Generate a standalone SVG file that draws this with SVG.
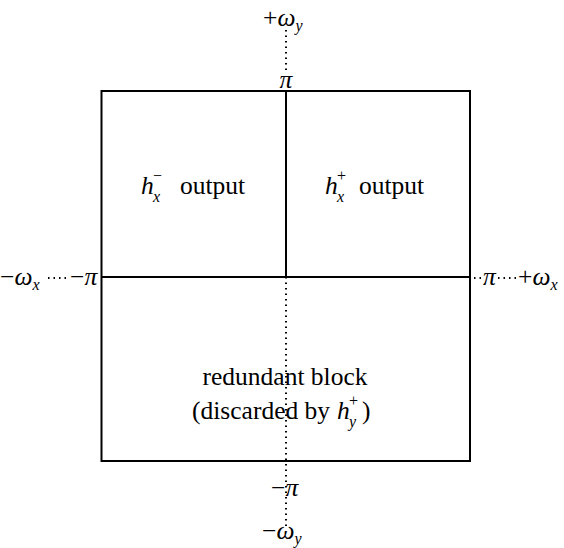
<svg xmlns="http://www.w3.org/2000/svg" width="564" height="548" viewBox="0 0 564 548">
<style>
.t{font-family:"Liberation Serif","DejaVu Serif",serif;font-size:25.5px;fill:#000}
.i{font-style:italic}
.s{font-size:16px}
.solid{stroke:#000;stroke-width:2;fill:none}
.dot{stroke:#000;stroke-width:2;stroke-dasharray:1.5 4;fill:none}
</style>
<rect width="564" height="548" fill="#fff"/>
<g id="connectors">
<line class="dot" x1="286" y1="30" x2="286" y2="72"/>
<line class="dot" x1="286" y1="277" x2="286" y2="526"/>
<line class="dot" x1="48" y1="278" x2="70" y2="278"/>
<line class="dot" x1="474" y1="278" x2="482" y2="278"/>
<line class="dot" x1="498" y1="278" x2="520" y2="278"/>
</g>
<g id="box">
<rect class="solid" x="101.5" y="91" width="368.5" height="370"/>
<line class="solid" x1="286" y1="91" x2="286" y2="277"/>
<line class="solid" x1="101.5" y1="277" x2="470" y2="277"/>
</g>
<g id="q1">
<text class="t i" x="141" y="194">h</text>
<text class="t i s" x="153" y="202">x</text>
<text class="t s" x="153" y="181">−</text>
<text class="t" x="180" y="194">output</text>
</g>
<g id="q2">
<text class="t i" x="325" y="194">h</text>
<text class="t i s" x="337" y="202">x</text>
<text class="t s" x="337" y="181">+</text>
<text class="t" x="359" y="194">output</text>
</g>
<g id="redundant">
<text class="t" x="285" y="385" text-anchor="middle">redundant block</text>
<text class="t" x="192" y="419">(discarded by</text>
<text class="t i" x="337" y="419">h</text>
<text class="t i s" x="349" y="427">y</text>
<text class="t s" x="349" y="406">+</text>
<text class="t" x="362" y="419">)</text>
</g>
<g id="labels">
<text class="t" x="263" y="26">+<tspan class="i">ω</tspan><tspan class="i s" dy="5">y</tspan></text>
<text class="t i" x="286" y="88" text-anchor="middle">π</text>
<text class="t" x="0" y="285">−<tspan class="i">ω</tspan><tspan class="i s" dy="5">x</tspan></text>
<text class="t" x="70" y="285">−<tspan class="i">π</tspan></text>
<text class="t i" x="483" y="285">π</text>
<text class="t" x="518" y="285">+<tspan class="i">ω</tspan><tspan class="i s" dy="5">x</tspan></text>
<text class="t" x="271" y="496">−<tspan class="i">π</tspan></text>
<text class="t" x="262" y="539">−<tspan class="i">ω</tspan><tspan class="i s" dy="5">y</tspan></text>
</g>
</svg>
